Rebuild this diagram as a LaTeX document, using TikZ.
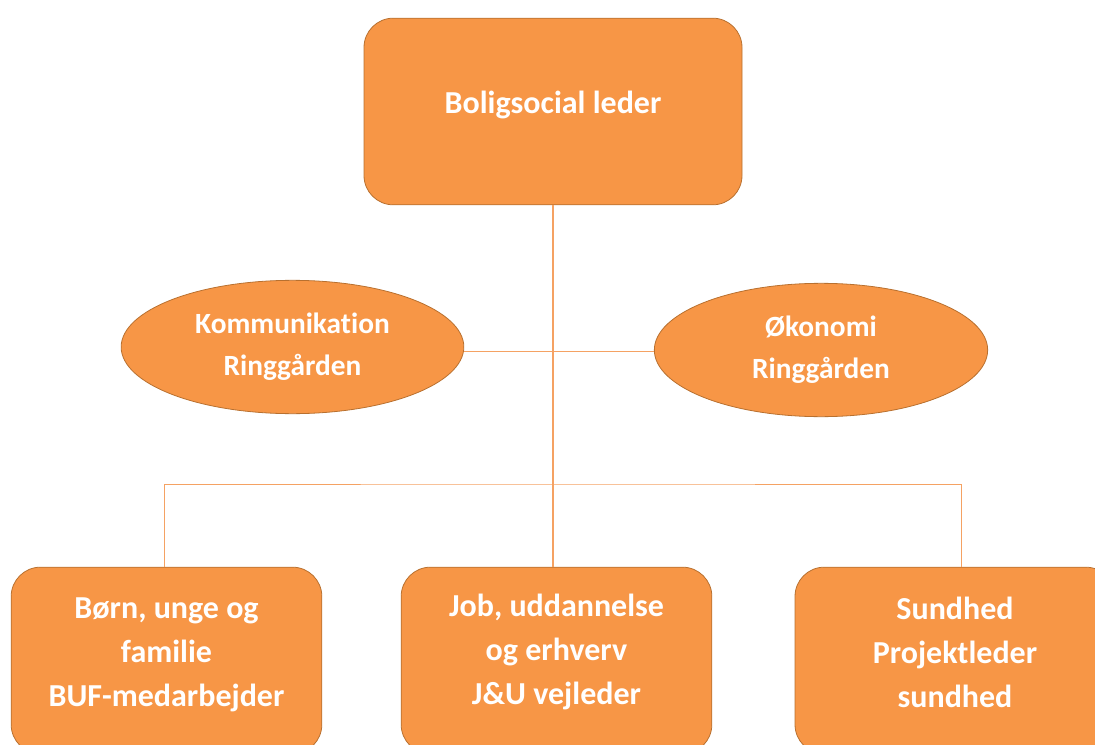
\documentclass[tikz,border=0pt]{standalone}
\usepackage{fontspec}
\setmainfont{Carlito}[Ligatures={NoCommon}]
\usetikzlibrary{positioning}
\usetikzlibrary{shapes.geometric}

\definecolor{boxfill}{HTML}{F79646}
\definecolor{boxline}{HTML}{B8702F}
\definecolor{wire}{HTML}{F5A263}

\tikzset{
  unitbox/.style={draw=boxline, fill=boxfill, rounded corners=22pt, line width=0.6pt,
    minimum width=233pt, minimum height=140pt, align=center, text=white,
    font=\bfseries\fontsize{24}{33}\selectfont},
  staffoval/.style={draw=boxline, fill=boxfill, ellipse, line width=0.6pt, inner sep=0pt,
    align=center, text=white, font=\bfseries\fontsize{22}{31.5}\selectfont},
  wireline/.style={draw=wire, line width=0.75pt}
}

\begin{document}
\begin{tikzpicture}[x=0.75pt, y=-0.75pt]
  \useasboundingbox (0,0) rectangle (1095,745);
  \clip (0,0) rectangle (1095,745);

  \node [unitbox, minimum width=283.5pt, text depth=14pt] (top) at (553,111.5) {Boligsocial leder};

  \node [staffoval, minimum width=257pt, minimum height=100pt] (komm) at (292.5,347)
    {Kommunikation\\Ringgården};
  \node [staffoval, minimum width=250pt, minimum height=100pt] (oko) at (821,350)
    {Økonomi\\Ringgården};

  \node [unitbox, text depth=12.5pt] (born) at (166.5,660.5) {Børn, unge og\\familie\\BUF-medarbejder};
  \node [unitbox, text depth=17pt] (job) at (556.5,660.5) {Job, uddannelse\\og erhverv\\J\&U vejleder};
  \node [unitbox, text depth=12pt, minimum width=240pt] (sund) at (955,660.5) {Sundhed\\Projektleder\\sundhed};

  \coordinate (hub) at (553,351);
  \coordinate (bus) at (553,484);

  % connectors
  \draw [wireline, line width=1.5pt] (top.south) -- (top.south |- job.north);
  \draw [wireline] (hub -| komm.east) -- (hub -| oko.west);
  \draw [wireline] (born.north -| 164,0) |- (bus) -| ([xshift=5pt]sund.north);
\end{tikzpicture}
\end{document}
